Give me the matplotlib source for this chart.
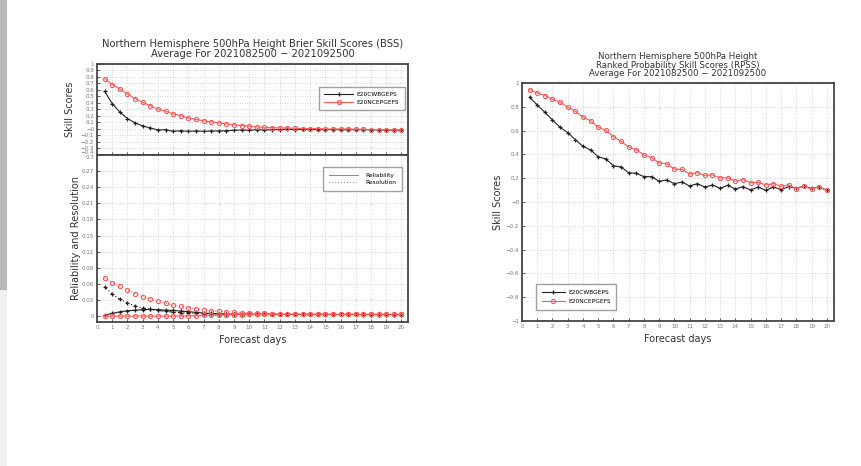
import numpy as np
import matplotlib
matplotlib.use("Agg")
import matplotlib.pyplot as plt
from matplotlib.patches import Rectangle

# forecast lead times (days)
days = np.arange(0.5, 20.01, 0.5)

# Brier skill scores
bss_cwb = [0.58, 0.39, 0.26, 0.16, 0.095, 0.047, 0.016, -0.016, -0.011, -0.037,
           -0.026, -0.037, -0.030, -0.037, -0.030, -0.030, -0.026, -0.020, -0.016, -0.020,
           -0.010, -0.016, -0.010, -0.010, -0.005, -0.010, -0.005, -0.005, -0.008, -0.010,
           -0.008, -0.012, -0.010, -0.012, -0.010, -0.012, -0.012, -0.015, -0.016, -0.020]
bss_ncep = [0.774, 0.684, 0.616, 0.537, 0.468, 0.41, 0.358, 0.305, 0.274, 0.232,
            0.205, 0.168, 0.147, 0.126, 0.11, 0.095, 0.079, 0.063, 0.053, 0.042,
            0.032, 0.026, 0.021, 0.016, 0.016, 0.011, 0.005, 0.005, 0.005, 0.0,
            0.0, 0.0, 0.0, -0.005, -0.005, -0.01, -0.01, -0.012, -0.015, -0.02]

# reliability / resolution terms
res_cwb = [0.055, 0.041, 0.031, 0.0245, 0.019, 0.015, 0.0126, 0.0107, 0.0088, 0.0075,
           0.0063, 0.0057, 0.005, 0.0044, 0.0044, 0.0038, 0.0038, 0.0036, 0.0035, 0.0035,
           0.0034, 0.0034, 0.0033, 0.0033, 0.0032, 0.0032, 0.0032, 0.0031, 0.0031, 0.0031,
           0.0030, 0.0030, 0.0030, 0.0030, 0.0030, 0.0029, 0.0029, 0.0029, 0.0029, 0.0029]
rel_cwb = [0.002, 0.005, 0.008, 0.010, 0.011, 0.012, 0.0126, 0.012, 0.011, 0.0107,
           0.0094, 0.0082, 0.0069, 0.0057, 0.005, 0.0044, 0.0038, 0.0036, 0.0035, 0.0034,
           0.0033, 0.0033, 0.0032, 0.0032, 0.0032, 0.0031, 0.0031, 0.0031, 0.0030, 0.0030,
           0.0030, 0.0030, 0.0030, 0.0030, 0.0029, 0.0029, 0.0029, 0.0029, 0.0029, 0.0029]
res_ncep = [0.071, 0.062, 0.056, 0.048, 0.042, 0.036, 0.032, 0.028, 0.0245, 0.020,
            0.018, 0.016, 0.014, 0.012, 0.010, 0.0094, 0.0082, 0.0069, 0.0063, 0.0057,
            0.005, 0.005, 0.0044, 0.0042, 0.0040, 0.0040, 0.0038, 0.0038, 0.0036, 0.0036,
            0.0035, 0.0035, 0.0034, 0.0034, 0.0033, 0.0033, 0.0032, 0.0032, 0.0031, 0.0031]
rel_ncep = [0.0, 0.0, 0.0, 0.0, 0.0, 0.0, 0.0, 0.0, 0.0, 0.0,
            0.0003, 0.0006, 0.0009, 0.0013, 0.0016, 0.002, 0.0022, 0.0025, 0.0027, 0.003,
            0.003, 0.0031, 0.0031, 0.0032, 0.0032, 0.0032, 0.0033, 0.0033, 0.0033, 0.0033,
            0.0033, 0.0033, 0.0033, 0.0033, 0.0033, 0.0033, 0.0033, 0.0033, 0.0033, 0.0033]

# ranked probability skill scores
rpss_cwb = [0.88, 0.815, 0.753, 0.689, 0.627, 0.583, 0.524, 0.468, 0.437, 0.381,
            0.361, 0.305, 0.294, 0.246, 0.241, 0.213, 0.213, 0.174, 0.185, 0.154,
            0.168, 0.134, 0.154, 0.126, 0.143, 0.115, 0.140, 0.109, 0.129, 0.101,
            0.126, 0.098, 0.126, 0.104, 0.129, 0.115, 0.132, 0.115, 0.126, 0.098]
rpss_ncep = [0.944, 0.916, 0.894, 0.863, 0.838, 0.798, 0.762, 0.714, 0.683, 0.630,
             0.602, 0.549, 0.510, 0.462, 0.440, 0.395, 0.373, 0.328, 0.322, 0.275,
             0.275, 0.235, 0.246, 0.224, 0.227, 0.202, 0.204, 0.176, 0.188, 0.162,
             0.165, 0.143, 0.154, 0.132, 0.143, 0.112, 0.132, 0.109, 0.129, 0.098]

names = ["E20CWBGEPS", "E20NCEPGEFS"]

BLK = "#222222"
RED = "#ff5a5a"
FR = "#444444"
TK = "#777777"

fig = plt.figure(figsize=(8.61, 4.66), dpi=100)
fig.patch.set_facecolor("white")

# browser scrollbar strip on the left edge
fig.patches.append(Rectangle((0, 1 - 290 / 466), 7 / 861, 290 / 466, transform=fig.transFigure,
                             facecolor="#b9b9b9", edgecolor="none"))
fig.patches.append(Rectangle((0, 0), 7 / 861, 1 - 290 / 466, transform=fig.transFigure,
                             facecolor="#f0f0f0", edgecolor="none"))


def style(ax):
    for s in ax.spines.values():
        s.set_color(FR)
        s.set_linewidth(1.3)
    ax.grid(True, color="#c8c8c8", linestyle=(0, (1, 2)), linewidth=0.6)
    ax.tick_params(direction="in", length=2, width=0.6, colors=FR, labelcolor=TK,
                   labelsize=4, pad=2)


def black_kw(ls="-"):
    return dict(color=BLK, lw=0.8, ls=ls, marker="+", ms=3, mew=0.9)


def red_kw(ls="-"):
    return dict(color=RED, lw=0.8, ls=ls, marker="o", ms=3, mfc="none", mew=0.8)


# ---- BSS (top left)
ax1 = fig.add_axes([0.1127, 0.6674, 0.3612, 0.1953])
ax1.plot(days, bss_cwb, label=names[0], **black_kw())
ax1.plot(days, bss_ncep, label=names[1], **red_kw())
ax1.set_xlim(0, 20.43)
ax1.set_ylim(-0.4, 1.0)
ax1.set_xticks(range(1, 21))
bt = np.round(np.arange(-0.4, 1.01, 0.1), 1)
ax1.set_yticks(bt)
ax1.set_yticklabels([f"{v:g}".replace("-", "\u2212") for v in bt])
style(ax1)
ax1.get_yticklabels()[0].set_va("bottom")
ax1.set_ylabel("Skill Scores", fontsize=7, color="#333333", labelpad=4)
ax1.legend(loc="upper left", bbox_to_anchor=(0.704, 0.78), fontsize=4.2, frameon=True,
           fancybox=False, edgecolor="#888888", handlelength=5, borderpad=0.9,
           labelspacing=0.4, handletextpad=0.6)
ax1.set_title("Northern Hemisphere 500hPa Height Brier Skill Scores (BSS)\n"
              "Average For 2021082500 \u2212 2021092500", fontsize=7.2, color="#333333",
              linespacing=0.95, pad=5)

# ---- reliability / resolution (bottom left)
ax2 = fig.add_axes([0.1127, 0.309, 0.3612, 0.3584])
ax2.plot(days, res_cwb, **black_kw((0, (3, 2, 1, 2))))
ax2.plot(days, rel_cwb, **black_kw())
ax2.plot(days, res_ncep, **red_kw((0, (1, 2))))
ax2.plot(days, rel_ncep, **red_kw())
ax2.plot([], [], color="#888888", lw=0.7, ls="-", label="Reliability")
ax2.plot([], [], color="#888888", lw=0.7, ls=(0, (1, 2)), label="Resolution")
ax2.set_xlim(0, 20.43)
ax2.set_ylim(-0.011, 0.3)
ax2.set_xticks(range(0, 21))
lt = np.round(np.arange(0, 0.301, 0.03), 2)
ax2.set_yticks(lt)
ax2.set_yticklabels([f"{v:g}" for v in lt])
style(ax2)
ax2.get_yticklabels()[-1].set_va("top")
ax2.set_ylabel("Reliability and Resolution", fontsize=7, color="#333333", labelpad=1)
ax2.set_xlabel("Forecast days", fontsize=7, color="#333333", labelpad=4)
ax2.legend(loc="upper left", bbox_to_anchor=(0.717, 0.945), fontsize=4.2, frameon=True,
           fancybox=False, edgecolor="#888888", handlelength=5, borderpad=1.0,
           labelspacing=0.3, handletextpad=1.2)

# ---- RPSS (right)
ax3 = fig.add_axes([0.6063, 0.3112, 0.3624, 0.5107])
ax3.plot(days, rpss_cwb, label=names[0], **black_kw())
ax3.plot(days, rpss_ncep, label=names[1], **red_kw())
ax3.set_xlim(0, 20.48)
ax3.set_ylim(-1.0, 1.0)
ax3.set_xticks(range(0, 21))
rt = np.round(np.arange(-1.0, 1.01, 0.2), 1)
ax3.set_yticks(rt)
ax3.set_yticklabels([f"{v:g}".replace("-", "\u2212") for v in rt])
style(ax3)
ax3.set_ylabel("Skill Scores", fontsize=7, color="#333333", labelpad=2)
ax3.set_xlabel("Forecast days", fontsize=7, color="#333333", labelpad=4)
ax3.legend(loc="lower left", bbox_to_anchor=(0.035, 0.035), fontsize=4.2, frameon=True,
           fancybox=False, edgecolor="#888888", handlelength=4, borderpad=1.0,
           labelspacing=0.6, handletextpad=0.5)
ax3.set_title("Northern Hemisphere 500hPa Height\nRanked Probability Skill Scores (RPSS)\n"
              "Average For 2021082500 \u2212 2021092500", fontsize=6.2, color="#333333",
              linespacing=0.9, pad=5)

fig.savefig("out.png", dpi=100, facecolor="white")
